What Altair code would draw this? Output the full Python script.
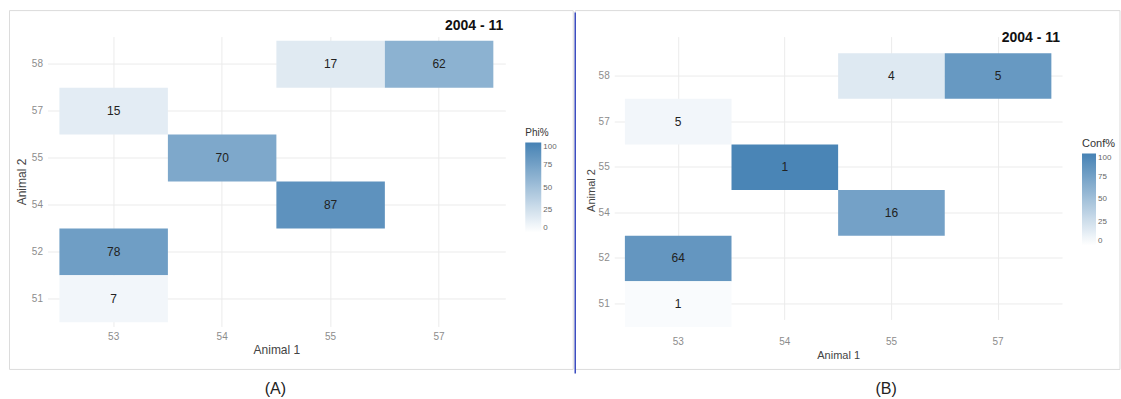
import altair as alt
import pandas as pd

# ---- data ----
animal1 = ["55", "57", "53", "54", "55", "53", "53"]
animal2 = ["58", "58", "57", "55", "54", "52", "51"]
phi_pct = [17, 62, 15, 70, 87, 78, 7]          # panel A labels (and fill)
conf_label = [4, 5, 5, 1, 16, 64, 1]           # panel B labels
conf_fill = [18, 82, 7, 98, 75, 84, 3]
x_order = ["53", "54", "55", "57"]
y_order = ["58", "57", "55", "54", "52", "51"]
legend_ticks = [0, 25, 50, 75, 100]
panel_title = "2004 - 11"
captions = ["(A)", "(B)"]
legend_titles = ["Phi%", "Conf%"]
x_title = "Animal 1"
y_title = "Animal 2"

FONT = "Liberation Sans"

df_a = pd.DataFrame({"a1": animal1, "a2": animal2, "fill": phi_pct, "label": phi_pct})
df_b = pd.DataFrame({"a1": animal1, "a2": animal2, "fill": conf_fill, "label": conf_label})


def panel(df, legend_title, caption, w, h, px, py, yrange, title_y, box, leg, grad_len,
          grad_thick, leg_title_size, axis_title_size, ytitle_pad, cap_xy, divider=None):
    x = alt.X("a1:N", title=x_title, sort=x_order,
              scale=alt.Scale(domain=x_order, paddingInner=0, paddingOuter=px),
              axis=alt.Axis(labelAngle=0, labelPadding=5, titlePadding=3, zindex=0,
                            titleFontSize=axis_title_size, bandPosition=0.5))
    y = alt.Y("a2:N", title=y_title, sort=y_order,
              scale=alt.Scale(domain=y_order, paddingInner=0, paddingOuter=py,
                              range=yrange),
              axis=alt.Axis(labelPadding=5, titlePadding=ytitle_pad, zindex=0,
                            titleY=(yrange[0] + yrange[1]) / 2,
                            titleFontSize=axis_title_size, bandPosition=0.5))
    color = alt.Color(
        "fill:Q",
        scale=alt.Scale(domain=[0, 100], range=["#ffffff", "#4682b4"],
                        interpolate="rgb"),
        legend=alt.Legend(title=legend_title, orient="none", direction="vertical",
                          legendX=leg[0], legendY=leg[1], values=legend_ticks,
                          gradientLength=grad_len, gradientThickness=grad_thick,
                          titleFontSize=leg_title_size, titlePadding=5,
                          labelBaseline="middle"),
    )
    base = alt.Chart(df)
    tiles = base.mark_rect().encode(x=x, y=y, color=color)
    text = base.mark_text(font=FONT, fontSize=12, color="#222222").encode(
        x=x, y=y, text=alt.Text("label:Q", format="d"))

    one = alt.Chart(pd.DataFrame({"t": [panel_title], "c": [caption]}))
    border = one.mark_rect(fill="transparent", stroke="#dcdcdc", strokeWidth=1).encode(
        x=alt.value(box[0]), x2=alt.value(box[1]), y=alt.value(box[2]), y2=alt.value(box[3]))
    title = one.mark_text(align="right", baseline="middle", font=FONT, fontSize=14,
                          fontWeight="bold", color="#111111").encode(
        x=alt.value(w - 2), y=alt.value(title_y), text="t:N")
    cap = one.mark_text(align="center", baseline="middle", font=FONT, fontSize=16,
                        color="#222222").encode(
        x=alt.value(cap_xy[0]), y=alt.value(cap_xy[1]), text="c:N")
    layers = [border, tiles, text, title, cap]
    if divider is not None:
        rule = one.mark_rule(color="#3b4cc0", strokeWidth=1.5).encode(
            x=alt.value(divider[0]), y=alt.value(divider[1]), y2=alt.value(divider[2]))
        layers.append(rule)
    return alt.layer(*layers).properties(width=w, height=h)


# both plot areas start at the same top; panel B's rows start 12px lower
pa = panel(df_a, legend_titles[0], captions[0], 458, 290, 0.11, 0.09, [0, 290], -11,
           (-38, 526, -26, 333), (478, 91), 90, 16, 10, 12, 3, (228, 353))
pb = panel(df_b, legend_titles[1], captions[1], 448, 295, 0.1, 0.1, [12, 295], 1,
           (-39, 506, -26, 333), (468, 101), 92, 14, 11, 11, 2, (272, 353),
           divider=(-39, -24, 337))

chart = (
    alt.hconcat(pa, pb, spacing=0)
    .resolve_scale(x="independent", y="independent", color="independent")
    .properties(padding={"left": 8.5, "top": 9.5, "right": 0, "bottom": 0},
                background="white")
    .configure_view(stroke=None)
    .configure_axis(domain=False, ticks=False, grid=True, gridColor="#ebebeb",
                    labelColor="#8c8c8c", labelFontSize=10, labelFont=FONT,
                    titleFont=FONT, titleColor="#444444", titleFontWeight="normal")
    .configure_legend(titleFont=FONT, labelFont=FONT, titleColor="#333333",
                      titleFontWeight="normal", labelColor="#666666", labelFontSize=8,
                      labelOffset=5, gradientStrokeWidth=0)
)

chart.save("out.html", embed_options={"renderer": "svg", "actions": False})
